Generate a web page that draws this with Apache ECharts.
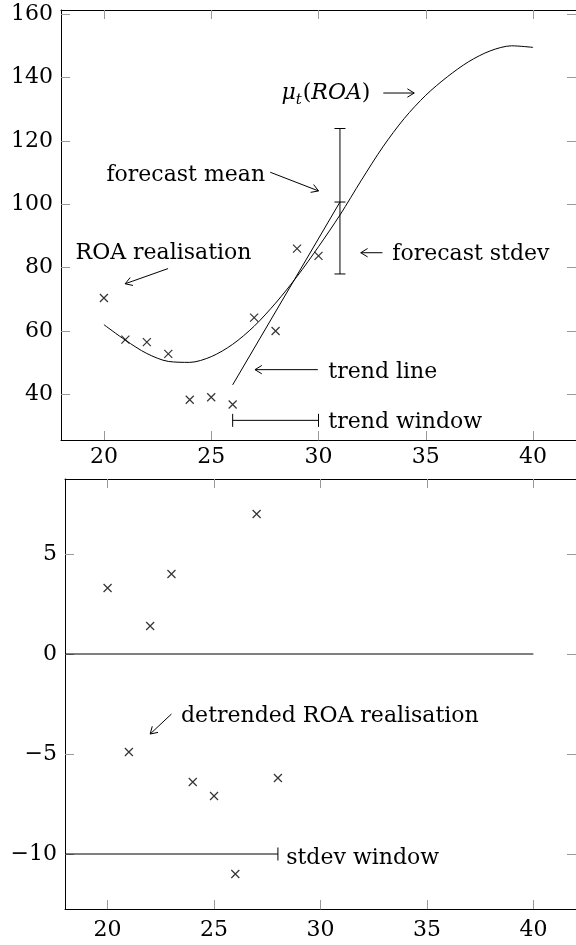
<!DOCTYPE html>
<html>
<head>
<meta charset="utf-8">
<script src="https://cdn.jsdelivr.net/npm/echarts@6/dist/echarts.min.js"></script>
<style>
html, body { margin: 0; padding: 0; background: #fff; }
#chart { width: 576px; height: 945px; }
</style>
</head>
<body>
<div id="chart"></div>
<script>
// 上图：ROA 实现值 + 拟合均值曲线
const roaX = [20, 21, 22, 23, 24, 25, 26, 27, 28, 29, 30];
const roaY = [70.4, 57.3, 56.5, 52.8, 38.3, 39.1, 36.8, 64.2, 60.0, 86.0, 83.7];
const muX = [20, 21, 22, 23, 24, 25, 26, 27, 28, 29, 30, 31, 32, 33, 34, 35, 36, 37, 38, 39, 40];
const muY = [62.0, 57.1, 52.9, 50.4, 50.1, 51.9, 55.8, 61.5, 68.8, 77.2, 86.6, 96.6, 107.6, 118.1, 127.1, 134.4, 140.2, 145.0, 148.4, 150.0, 149.5];
const trendX = [26, 31];
const trendY = [43.0, 100.7];
const forecastX = 31;
const forecastMean = 100.7;
const forecastLow = 78.0;
const forecastHigh = 123.9;
const trendWindow = [26, 30];

// 下图：去趋势后的 ROA
const detX = [20, 21, 22, 23, 24, 25, 26, 27, 28];
const detY = [3.3, -4.9, 1.4, 4.0, -6.4, -7.1, -11.0, 7.0, -6.2];
const zeroLineX = [18, 40];
const stdevWindow = [18, 28];

// 刻度
const xTicks = [20, 25, 30, 35, 40];
const topYTicks = [40, 60, 80, 100, 120, 140, 160];
const bottomYTicks = [-10, -5, 0, 5];

const FONT = '"DejaVu Serif", "Liberation Serif", serif';
const FS = 22;

// 注释文字 (数据坐标)
const topNotes = [
  { x: 32.42, y: 134.9, align: 'right', text: '{mu|μ}{sub|t}{n|(}{it|ROA}{n|)}' },
  { x: 27.51, y: 109.2, align: 'right', text: 'forecast mean' },
  { x: 18.68, y: 84.6, align: 'left', text: 'ROA realisation' },
  { x: 33.44, y: 84.2, align: 'left', text: 'forecast stdev' },
  { x: 30.46, y: 47.0, align: 'left', text: 'trend line' },
  { x: 30.46, y: 31.2, align: 'left', text: 'trend window' }
];
const topArrows = [
  [33.02, 135.1, 34.46, 135.1],
  [27.75, 110.1, 30.0, 104.2],
  [22.99, 79.7, 20.99, 74.9],
  [32.98, 84.7, 31.97, 84.7],
  [29.97, 47.8, 27.04, 47.8]
];
const bottomNotes = [
  { x: 23.45, y: -3.13, align: 'left', text: 'detrended ROA realisation' },
  { x: 28.39, y: -10.22, align: 'left', text: 'stdev window' }
];
const bottomArrows = [
  [23.0, -3.0, 22.0, -4.0]
];

const rich = {
  mu: { fontFamily: FONT, fontSize: FS, fontStyle: 'italic', fill: '#000' },
  sub: { fontFamily: FONT, fontSize: 15, fontStyle: 'italic', fill: '#000', padding: [12, 1, 0, 0] },
  n: { fontFamily: FONT, fontSize: FS, fill: '#000' },
  it: { fontFamily: FONT, fontSize: FS, fontStyle: 'italic', fill: '#000' }
};

const minus = v => String(v).replace('-', '\u2212');

function makeAxes(gridIndex, xr, yr, xT, yT, xMargin) {
  const tick = (vals) => ({ show: true, inside: true, length: 9, customValues: vals, lineStyle: { color: '#999', width: 1 } });
  const line = { show: true, onZero: false, lineStyle: { color: '#000', width: 1 } };
  const label = (vals, margin) => ({
    show: true, customValues: vals, margin: margin, color: '#000',
    fontFamily: FONT, fontSize: FS, formatter: minus
  });
  const xs = [
    { gridIndex, type: 'value', position: 'bottom', min: xr[0], max: xr[1], axisLine: line, axisTick: tick(xT), axisLabel: label(xT, xMargin), splitLine: { show: false } },
    { gridIndex, type: 'value', position: 'top', min: xr[0], max: xr[1], axisLine: line, axisTick: tick(xT), axisLabel: { show: false }, splitLine: { show: false } }
  ];
  const ys = [
    { gridIndex, type: 'value', position: 'left', min: yr[0], max: yr[1], axisLine: line, axisTick: tick(yT), axisLabel: label(yT, 8), splitLine: { show: false } },
    { gridIndex, type: 'value', position: 'right', min: yr[0], max: yr[1], axisLine: line, axisTick: tick(yT), axisLabel: { show: false }, splitLine: { show: false } }
  ];
  return { xs, ys };
}

const topAxes = makeAxes(0, [18, 42], [25.6, 161.3], xTicks, topYTicks, 6);
const botAxes = makeAxes(1, [18, 42], [-12.75, 8.75], xTicks, bottomYTicks, 10);

const crossSymbol = 'path://M0,0L10,10M10,0L0,10';

function renderArrow(params, api) {
  const a = api.coord([api.value(0), api.value(1)]);
  const b = api.coord([api.value(2), api.value(3)]);
  const ang = Math.atan2(b[1] - a[1], b[0] - a[0]);
  const L = 8, w = 0.55;
  const h1 = [b[0] - L * Math.cos(ang - w), b[1] - L * Math.sin(ang - w)];
  const h2 = [b[0] - L * Math.cos(ang + w), b[1] - L * Math.sin(ang + w)];
  return {
    type: 'group',
    children: [
      { type: 'line', shape: { x1: a[0], y1: a[1], x2: b[0], y2: b[1] }, style: { stroke: '#000', lineWidth: 1 } },
      { type: 'polyline', shape: { points: [h1, b, h2] }, style: { stroke: '#000', fill: null, lineWidth: 1 } }
    ]
  };
}

function noteRenderer(notes) {
  return function (params, api) {
    const n = notes[params.dataIndex];
    const p = api.coord([api.value(0), api.value(1)]);
    return {
      type: 'text', x: p[0], y: p[1],
      style: {
        text: n.text, rich: rich, fill: '#000',
        fontFamily: FONT, fontSize: FS,
        align: n.align, verticalAlign: 'middle'
      }
    };
  };
}

// 误差棒：竖线 + 三个横帽
function renderErrorBar(params, api) {
  const x = api.value(0);
  const lo = api.coord([x, api.value(1)]);
  const mid = api.coord([x, api.value(2)]);
  const hi = api.coord([x, api.value(3)]);
  const w = 5.5;
  const seg = (p) => ({ type: 'line', shape: { x1: p[0] - w, y1: p[1], x2: p[0] + w, y2: p[1] }, style: { stroke: '#000', lineWidth: 1 } });
  return {
    type: 'group',
    children: [
      { type: 'line', shape: { x1: lo[0], y1: lo[1], x2: hi[0], y2: hi[1] }, style: { stroke: '#000', lineWidth: 1 } },
      seg(lo), seg(mid), seg(hi)
    ]
  };
}

// 窗口区间 |---|
function renderWindow(params, api) {
  const y = api.value(2);
  const a = api.coord([api.value(0), y]);
  const b = api.coord([api.value(1), y]);
  const h = 6.5;
  const kids = [
    { type: 'line', shape: { x1: a[0], y1: a[1], x2: b[0], y2: b[1] }, style: { stroke: '#000', lineWidth: 1 } },
    { type: 'line', shape: { x1: b[0], y1: b[1] - h, x2: b[0], y2: b[1] + h }, style: { stroke: '#000', lineWidth: 1 } }
  ];
  if (api.value(3)) {
    kids.push({ type: 'line', shape: { x1: a[0], y1: a[1] - h, x2: a[0], y2: a[1] + h }, style: { stroke: '#000', lineWidth: 1 } });
  }
  return { type: 'group', children: kids };
}

const zip = (xs, ys) => xs.map((x, i) => [x, ys[i]]);

const chart = echarts.init(document.getElementById('chart'), null, { renderer: 'canvas' });

chart.setOption({
  backgroundColor: '#fff',
  animation: false,
  grid: [
    { left: 61, top: 10, width: 519, height: 430 },
    { left: 65, top: 479, width: 519, height: 430 }
  ],
  xAxis: [...topAxes.xs, ...botAxes.xs],
  yAxis: [...topAxes.ys, ...botAxes.ys],
  series: [
    {
      name: 'mu', type: 'line', xAxisIndex: 0, yAxisIndex: 0,
      data: zip(muX, muY), smooth: 0.3, showSymbol: false,
      lineStyle: { color: '#000', width: 1 }
    },
    {
      name: 'trend', type: 'line', xAxisIndex: 0, yAxisIndex: 0,
      data: zip(trendX, trendY), showSymbol: false,
      lineStyle: { color: '#000', width: 1 }
    },
    {
      name: 'roa', type: 'scatter', xAxisIndex: 0, yAxisIndex: 0,
      data: zip(roaX, roaY), symbol: crossSymbol, symbolSize: 8,
      itemStyle: { color: 'none', borderColor: '#000', borderWidth: 1.2 }
    },
    {
      name: 'forecast', type: 'custom', xAxisIndex: 0, yAxisIndex: 0,
      renderItem: renderErrorBar,
      data: [[forecastX, forecastLow, forecastMean, forecastHigh]]
    },
    {
      name: 'trendWindow', type: 'custom', xAxisIndex: 0, yAxisIndex: 0,
      renderItem: renderWindow,
      data: [[trendWindow[0], trendWindow[1], 31.8, 1]]
    },
    {
      name: 'topArrows', type: 'custom', xAxisIndex: 0, yAxisIndex: 0,
      renderItem: renderArrow, data: topArrows
    },
    {
      name: 'topNotes', type: 'custom', xAxisIndex: 0, yAxisIndex: 0,
      renderItem: noteRenderer(topNotes), data: topNotes.map(n => [n.x, n.y])
    },
    // 下图
    {
      name: 'zero', type: 'line', xAxisIndex: 2, yAxisIndex: 2,
      data: zeroLineX.map(x => [x, 0]), showSymbol: false,
      lineStyle: { color: '#000', width: 1 }
    },
    {
      name: 'detrended', type: 'scatter', xAxisIndex: 2, yAxisIndex: 2,
      data: zip(detX, detY), symbol: crossSymbol, symbolSize: 8,
      itemStyle: { color: 'none', borderColor: '#000', borderWidth: 1.2 }
    },
    {
      name: 'stdevWindow', type: 'custom', xAxisIndex: 2, yAxisIndex: 2,
      renderItem: renderWindow,
      data: [[stdevWindow[0], stdevWindow[1], -10, 0]]
    },
    {
      name: 'bottomArrows', type: 'custom', xAxisIndex: 2, yAxisIndex: 2,
      renderItem: renderArrow, data: bottomArrows
    },
    {
      name: 'bottomNotes', type: 'custom', xAxisIndex: 2, yAxisIndex: 2,
      renderItem: noteRenderer(bottomNotes), data: bottomNotes.map(n => [n.x, n.y])
    }
  ]
});
</script>
</body>
</html>
